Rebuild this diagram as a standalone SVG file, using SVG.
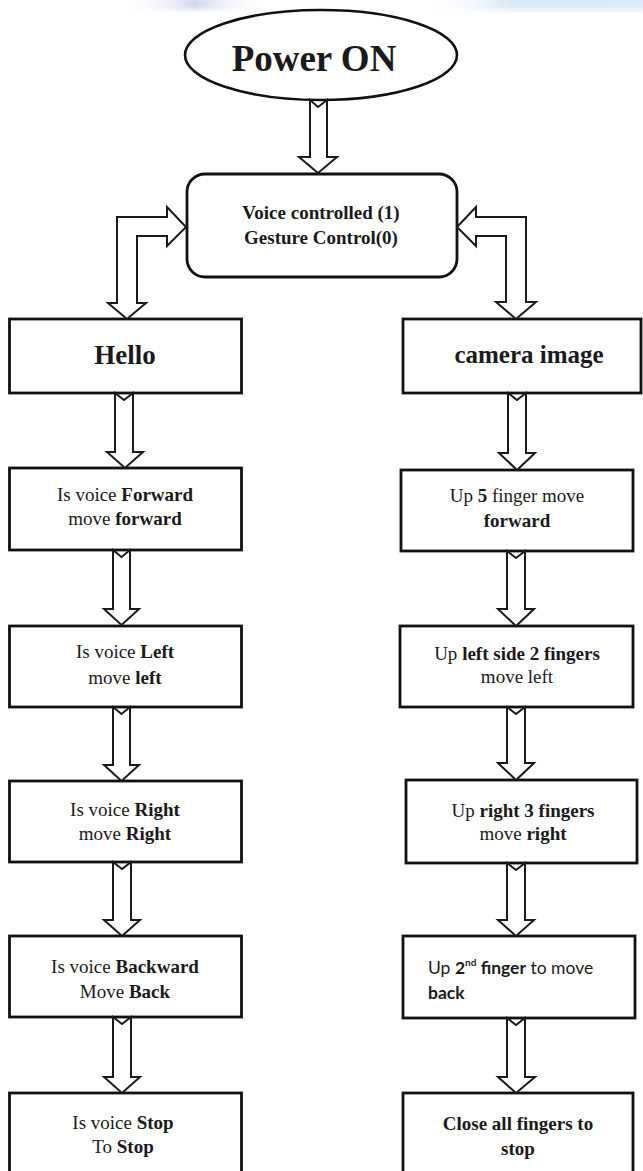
<svg xmlns="http://www.w3.org/2000/svg" width="643" height="1171" viewBox="0 0 643 1171">
<defs>
<linearGradient id="wmL" x1="0" y1="0" x2="1" y2="0">
<stop offset="0" stop-color="#ffffff" stop-opacity="0"/>
<stop offset="0.5" stop-color="#c9cdea" stop-opacity="0.8"/>
<stop offset="1" stop-color="#ffffff" stop-opacity="0"/>
</linearGradient>
<linearGradient id="wmR" x1="0" y1="0" x2="1" y2="0">
<stop offset="0" stop-color="#ffffff" stop-opacity="0"/>
<stop offset="0.4" stop-color="#cfe3f3" stop-opacity="0.8"/>
<stop offset="1" stop-color="#d6e7f5" stop-opacity="0.9"/>
</linearGradient>
<linearGradient id="fadeV" x1="0" y1="0" x2="0" y2="1">
<stop offset="0" stop-color="#fff" stop-opacity="0"/>
<stop offset="1" stop-color="#fff" stop-opacity="1"/>
</linearGradient>
</defs>
<style>
.box{fill:#fff;stroke:#111;stroke-width:2.8}
.arr{fill:#fff;stroke:#1a1a1a;stroke-width:2;stroke-linejoin:miter}
text.t{font-family:'Liberation Serif','Times New Roman','DejaVu Serif',serif;font-size:19px;fill:#1a1a1a;text-anchor:middle}
.b{font-weight:bold}
text.s{font-family:Lato,'Open Sans','Liberation Sans',sans-serif;font-size:17.5px;fill:#1a1a1a}
</style>
<rect x="0" y="0" width="643" height="1171" fill="#fff"/>
<g id="watermark">
<rect x="120" y="0" width="150" height="12" fill="url(#wmL)"/>
<rect x="420" y="0" width="223" height="13" fill="url(#wmR)"/>
<rect x="0" y="6" width="643" height="8" fill="url(#fadeV)"/>
</g>

<g id="power-on">
<ellipse cx="321" cy="55" rx="136" ry="45" fill="#fff" stroke="#111" stroke-width="2.6"/>
<text x="314" y="71" class="t b" style="font-size:37px">Power ON</text>
</g>

<g id="mode-select">
<rect class="box" x="187" y="174" width="270" height="103" rx="18" ry="18"/>
<text x="321" y="219" class="t b">Voice controlled (1)</text>
<text x="321" y="244" class="t b">Gesture Control(0)</text>
</g>

<g id="hello">
<rect class="box" x="9.5" y="319" width="232" height="74"/>
<text x="125" y="364" class="t b" style="font-size:27px">Hello</text>
</g>

<g id="camera-image">
<rect class="box" x="403" y="319" width="238" height="74"/>
<text x="529" y="363" class="t b" style="font-size:25px">camera image</text>
</g>

<g id="voice-forward">
<rect class="box" x="9.5" y="468" width="232" height="82"/>
<text x="125" y="501" class="t">Is voice <tspan class="b">Forward</tspan></text>
<text x="125" y="525" class="t">move <tspan class="b">forward</tspan></text>
</g>

<g id="voice-left">
<rect class="box" x="9.5" y="626" width="232" height="81"/>
<text x="125" y="658" class="t">Is voice <tspan class="b">Left</tspan></text>
<text x="125" y="684" class="t">move <tspan class="b">left</tspan></text>
</g>

<g id="voice-right">
<rect class="box" x="9.5" y="781" width="232" height="81"/>
<text x="125" y="816" class="t">Is voice <tspan class="b">Right</tspan></text>
<text x="125" y="840" class="t">move <tspan class="b">Right</tspan></text>
</g>

<g id="voice-backward">
<rect class="box" x="9.5" y="936" width="232" height="81"/>
<text x="125" y="973" class="t">Is voice <tspan class="b">Backward</tspan></text>
<text x="125" y="998" class="t">Move <tspan class="b">Back</tspan></text>
</g>

<g id="voice-stop">
<rect class="box" x="9.5" y="1093" width="232" height="90"/>
<text x="123" y="1129" class="t">Is voice <tspan class="b">Stop</tspan></text>
<text x="123" y="1153" class="t">To <tspan class="b">Stop</tspan></text>
</g>

<g id="gesture-forward">
<rect class="box" x="401" y="470" width="232" height="81"/>
<text x="517" y="502" class="t">Up <tspan class="b">5</tspan> finger move</text>
<text x="517" y="527" class="t b">forward</text>
</g>

<g id="gesture-left">
<rect class="box" x="400" y="626" width="233" height="81"/>
<text x="517" y="660" class="t">Up <tspan class="b">left side 2 fingers</tspan></text>
<text x="517" y="683" class="t">move left</text>
</g>

<g id="gesture-right">
<rect class="box" x="406" y="780" width="231" height="83"/>
<text x="523" y="817" class="t">Up <tspan class="b">right 3 fingers</tspan></text>
<text x="523" y="840" class="t">move <tspan class="b">right</tspan></text>
</g>

<g id="gesture-back">
<rect class="box" x="403" y="936" width="232" height="82"/>
<text x="428" y="974" class="s">Up <tspan font-weight="bold">2</tspan><tspan font-weight="bold" font-size="10" dy="-8">nd</tspan><tspan font-weight="bold" dy="8"> finger</tspan> to move</text>
<text x="428" y="999" class="s" font-weight="bold">back</text>
</g>

<g id="gesture-stop">
<rect class="box" x="403" y="1093" width="230" height="90"/>
<text x="518" y="1130" class="t b">Close all fingers to</text>
<text x="518" y="1155" class="t b">stop</text>
</g>

<g id="connectors">
<path class="arr" d="M310,100 L318,107 L327,100 L327,157 L337,157 L318,173 L299,157 L310,157 Z"/>
<path class="arr" d="M186,227 L167,207 L167,217 L117,217 L117,303 L108,303 L127,319 L146,303 L137,303 L137,236 L167,236 L167,246 Z"/>
<path class="arr" d="M457,227 L476,207 L476,217 L526,217 L526,302 L536,302 L516,319 L496,302 L506,302 L506,236 L476,236 L476,246 Z"/>
<path class="arr" d="M115,393 L124,400 L133,393 L133,452 L143,452 L125,468 L107,452 L115,452 Z"/>
<path class="arr" d="M113,550 L121.5,557 L130,550 L130,609 L139,609 L121.5,625 L104,609 L113,609 Z"/>
<path class="arr" d="M113,707 L121.5,714 L130,707 L130,765 L139,765 L121.5,781 L104,765 L113,765 Z"/>
<path class="arr" d="M113,862 L122,869 L131,862 L131,920 L140,920 L122,936 L104,920 L113,920 Z"/>
<path class="arr" d="M113,1017 L122,1024 L131,1017 L131,1077 L140,1077 L122,1093 L104,1077 L113,1077 Z"/>
<path class="arr" d="M508,393 L517,400 L526,393 L526,453 L535,453 L517,470 L499,453 L508,453 Z"/>
<path class="arr" d="M507,551 L516,558 L525,551 L525,609 L534,609 L516,626 L498,609 L507,609 Z"/>
<path class="arr" d="M507,707 L516,714 L525,707 L525,763 L534,763 L516,780 L498,763 L507,763 Z"/>
<path class="arr" d="M507,863 L516,870 L525,863 L525,920 L534,920 L516,936 L498,920 L507,920 Z"/>
<path class="arr" d="M507,1018 L516,1025 L525,1018 L525,1077 L535,1077 L516,1093 L498,1077 L507,1077 Z"/>
</g>
</svg>
